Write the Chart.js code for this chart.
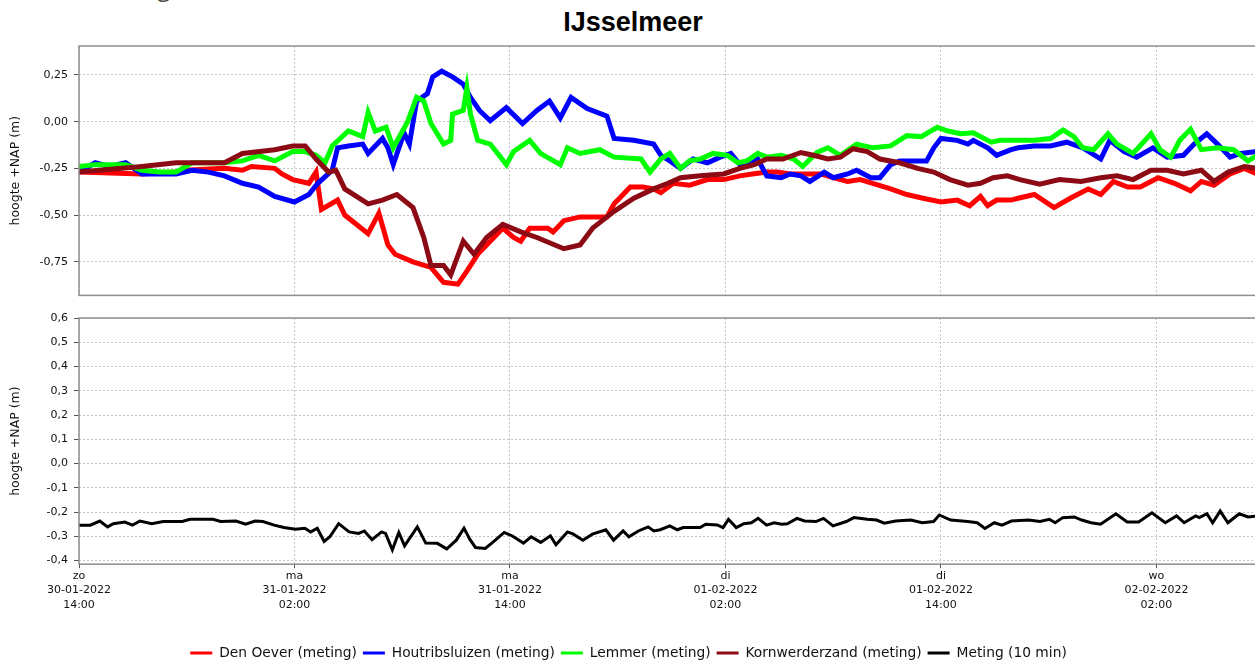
<!DOCTYPE html>
<html>
<head>
<meta charset="utf-8">
<script src="https://cdn.jsdelivr.net/npm/chart.js@4.4.1/dist/chart.umd.min.js"></script>
<style>
  html, body { margin: 0; padding: 0; background: #fff; overflow: hidden; width: 1255px; height: 662px; }
  #cut { position: absolute; left: 40px; top: -30px; font: 24px "Open Sans"; color: #444; white-space: nowrap; }
  #title { position: absolute; left: 0; top: 9px; width: 1266px; text-align: center; font: bold 27px "Liberation Sans"; line-height: 27px; color: #000; }
  #topBox { position: absolute; left: 0; top: 0; width: 1258px; height: 308px; }
  #bottomBox { position: absolute; left: 0; top: 300px; width: 1258px; height: 370px; }
</style>
</head>
<body>
<div id="cut">Water hoogte NAP</div>
<div id="title">IJsselmeer</div>
<div id="topBox"><canvas id="topChart"></canvas></div>
<div id="bottomBox"><canvas id="bottomChart"></canvas></div>
<script>
// x = hours after 30-01-2022 14:00
const tickHours = [0, 12, 24, 36, 48, 60];
const tickLabels = [
    ['zo', '30-01-2022', '14:00'],
    ['ma', '31-01-2022', '02:00'],
    ['ma', '31-01-2022', '14:00'],
    ['di', '01-02-2022', '02:00'],
    ['di', '01-02-2022', '14:00'],
    ['wo', '02-02-2022', '02:00']
];
const topTicks = [-0.75, -0.5, -0.25, 0, 0.25];
const bottomTicks = [-0.4, -0.3, -0.2, -0.1, 0, 0.1, 0.2, 0.3, 0.4, 0.5, 0.6];

const denOever = [
    [0,-0.27],[3.5,-0.28],[5.4,-0.27],[5.9,-0.26],[8.1,-0.25],[9.1,-0.26],[9.6,-0.24],[10.9,-0.25],[11.3,-0.28],
    [11.9,-0.31],[12.8,-0.33],[13.2,-0.27],[13.5,-0.47],[14.4,-0.42],[14.8,-0.5],[16.1,-0.6],[16.7,-0.49],
    [17.2,-0.66],[17.6,-0.71],[18.6,-0.75],[19.6,-0.78],[20.3,-0.86],[21.1,-0.87],[21.6,-0.8],[22.2,-0.71],
    [23.1,-0.62],[23.6,-0.57],[24.2,-0.62],[24.6,-0.64],[25.1,-0.57],[26.1,-0.57],[26.4,-0.59],[27.0,-0.53],
    [27.9,-0.51],[29.4,-0.51],[29.8,-0.44],[30.1,-0.41],[30.7,-0.35],[31.4,-0.35],[32.0,-0.36],[32.4,-0.38],
    [33.1,-0.33],[34.0,-0.34],[35.0,-0.31],[35.9,-0.31],[36.8,-0.29],[37.5,-0.28],[38.3,-0.27],[38.9,-0.27],
    [39.6,-0.28],[40.6,-0.28],[41.3,-0.28],[42.0,-0.3],[42.8,-0.32],[43.5,-0.31],[44.2,-0.33],[45.2,-0.36],
    [46.1,-0.39],[47.0,-0.41],[48.0,-0.43],[48.9,-0.42],[49.6,-0.45],[50.2,-0.4],[50.6,-0.45],[51.1,-0.42],
    [51.9,-0.42],[52.3,-0.41],[53.2,-0.39],[54.3,-0.46],[55.2,-0.41],[56.2,-0.36],[56.9,-0.39],[57.6,-0.32],
    [58.4,-0.35],[59.1,-0.35],[60.1,-0.3],[61.0,-0.33],[61.9,-0.37],[62.5,-0.32],[63.2,-0.34],[64.1,-0.28],
    [64.9,-0.25],[65.6,-0.28]
];
const houtribsluizen = [
    [0,-0.27],[0.9,-0.22],[1.7,-0.24],[2.6,-0.22],[3.5,-0.28],[5.4,-0.28],[6.3,-0.26],[7.2,-0.27],[8.1,-0.29],
    [9.1,-0.33],[10.0,-0.35],[10.9,-0.4],[12.0,-0.43],[12.8,-0.39],[13.3,-0.33],[14.1,-0.26],[14.4,-0.14],
    [15.0,-0.13],[15.8,-0.12],[16.1,-0.17],[16.9,-0.09],[17.2,-0.14],[17.5,-0.23],[18.1,-0.06],[18.4,-0.12],
    [18.8,0.11],[19.4,0.15],[19.7,0.24],[20.2,0.27],[20.8,0.24],[21.4,0.2],[21.8,0.13],[22.3,0.06],[22.9,0.005],
    [23.8,0.075],[24.7,-0.01],[25.5,0.06],[26.2,0.11],[26.8,0.02],[27.4,0.13],[28.3,0.07],[29.4,0.03],
    [29.8,-0.09],[30.9,-0.1],[32.0,-0.12],[32.4,-0.18],[32.9,-0.21],[33.5,-0.25],[34.2,-0.2],[35.0,-0.22],
    [35.7,-0.19],[36.3,-0.17],[36.8,-0.23],[37.8,-0.2],[38.3,-0.29],[39.1,-0.3],[39.6,-0.28],[40.2,-0.29],
    [40.7,-0.32],[41.5,-0.27],[42.0,-0.3],[42.8,-0.28],[43.3,-0.26],[44.1,-0.3],[44.6,-0.3],[45.2,-0.23],
    [45.7,-0.21],[46.5,-0.21],[47.2,-0.21],[47.6,-0.14],[48.0,-0.09],[48.9,-0.1],[49.5,-0.12],[49.8,-0.1],
    [50.6,-0.14],[51.1,-0.18],[51.9,-0.15],[52.3,-0.14],[53.2,-0.13],[54.1,-0.13],[55.0,-0.11],[55.9,-0.14],
    [56.9,-0.2],[57.4,-0.1],[58.2,-0.16],[58.9,-0.19],[59.8,-0.14],[60.6,-0.19],[61.5,-0.18],[62.1,-0.12],
    [62.8,-0.065],[63.4,-0.12],[64.1,-0.19],[64.7,-0.17],[65.6,-0.16]
];
const lemmer = [
    [0,-0.24],[0.9,-0.23],[2.6,-0.23],[3.5,-0.26],[4.5,-0.27],[5.4,-0.27],[6.3,-0.22],[8.1,-0.22],[9.1,-0.21],
    [10.0,-0.18],[10.9,-0.21],[11.9,-0.16],[12.6,-0.16],[13.2,-0.18],[13.7,-0.22],[14.1,-0.13],[15.0,-0.05],
    [15.8,-0.08],[16.1,0.05],[16.5,-0.05],[17.1,-0.03],[17.5,-0.14],[18.3,0.0],[18.8,0.13],[19.2,0.11],
    [19.6,-0.01],[20.3,-0.12],[20.7,-0.1],[20.8,0.04],[21.4,0.06],[21.6,0.18],[21.8,0.04],[22.2,-0.1],
    [22.9,-0.12],[23.8,-0.23],[24.2,-0.16],[25.1,-0.1],[25.7,-0.17],[26.8,-0.23],[27.2,-0.14],[27.9,-0.17],
    [29.0,-0.15],[29.8,-0.19],[31.3,-0.2],[31.8,-0.27],[32.4,-0.2],[32.9,-0.17],[33.5,-0.25],[34.0,-0.21],
    [34.6,-0.2],[35.3,-0.17],[36.1,-0.18],[36.7,-0.22],[37.2,-0.21],[37.8,-0.17],[38.3,-0.19],[39.1,-0.18],
    [39.8,-0.2],[40.3,-0.24],[41.1,-0.165],[41.7,-0.14],[42.4,-0.18],[43.3,-0.12],[44.2,-0.14],[45.2,-0.13],
    [46.1,-0.075],[46.9,-0.08],[47.8,-0.03],[48.4,-0.05],[49.1,-0.065],[49.8,-0.06],[50.8,-0.11],[51.3,-0.1],
    [52.4,-0.1],[53.2,-0.1],[54.1,-0.09],[54.8,-0.045],[55.4,-0.08],[55.9,-0.14],[56.5,-0.15],[57.3,-0.065],
    [57.8,-0.12],[58.7,-0.17],[59.7,-0.065],[60.2,-0.15],[60.8,-0.19],[61.3,-0.1],[61.9,-0.04],[62.5,-0.15],
    [63.4,-0.14],[64.3,-0.15],[65.1,-0.21],[65.6,-0.18]
];
const kornwerderzand = [
    [0,-0.27],[3.5,-0.24],[5.4,-0.22],[8.1,-0.22],[9.1,-0.17],[10.9,-0.15],[11.9,-0.13],[12.6,-0.13],
    [13.2,-0.2],[13.9,-0.27],[14.3,-0.26],[14.8,-0.36],[16.1,-0.44],[16.9,-0.42],[17.7,-0.39],[18.6,-0.46],
    [19.2,-0.62],[19.6,-0.77],[20.3,-0.77],[20.7,-0.82],[21.4,-0.64],[22.0,-0.71],[22.7,-0.62],[23.6,-0.55],
    [24.6,-0.59],[25.5,-0.62],[27.0,-0.68],[27.9,-0.66],[28.6,-0.57],[29.8,-0.48],[30.9,-0.41],[32.0,-0.36],
    [32.8,-0.33],[33.5,-0.3],[34.6,-0.29],[35.9,-0.28],[36.8,-0.25],[37.6,-0.23],[38.3,-0.2],[39.2,-0.2],
    [40.2,-0.165],[40.9,-0.18],[41.7,-0.2],[42.4,-0.19],[43.1,-0.145],[43.9,-0.16],[44.6,-0.2],[45.7,-0.22],
    [46.7,-0.25],[47.6,-0.27],[48.5,-0.31],[49.5,-0.34],[50.2,-0.33],[50.9,-0.3],[51.7,-0.29],[52.4,-0.31],
    [53.5,-0.335],[54.6,-0.31],[55.8,-0.32],[56.9,-0.3],[57.8,-0.29],[58.7,-0.31],[59.7,-0.26],[60.6,-0.26],
    [61.5,-0.28],[62.5,-0.26],[63.2,-0.32],[64.0,-0.27],[64.9,-0.24],[65.6,-0.25]
];
const meting10 = [
    [0,-0.254],[0.63,-0.254],[1.16,-0.237],[1.59,-0.261],[1.91,-0.248],[2.55,-0.241],[2.98,-0.254],[3.4,-0.237],
    [4.05,-0.248],[4.69,-0.239],[5.75,-0.239],[6.18,-0.23],[7.46,-0.23],[7.89,-0.239],[8.74,-0.237],[9.28,-0.25],
    [9.81,-0.237],[10.24,-0.239],[10.87,-0.254],[11.41,-0.264],[12.05,-0.271],[12.58,-0.267],[12.9,-0.282],
    [13.27,-0.267],[13.65,-0.321],[13.97,-0.302],[14.46,-0.248],[15.04,-0.282],[15.57,-0.288],[15.89,-0.278],
    [16.32,-0.314],[16.85,-0.282],[17.07,-0.288],[17.45,-0.356],[17.81,-0.284],[18.13,-0.339],[18.84,-0.261],
    [19.31,-0.328],[19.95,-0.329],[20.48,-0.352],[21.01,-0.316],[21.44,-0.267],[21.76,-0.312],[22.08,-0.346],
    [22.62,-0.35],[23.04,-0.325],[23.68,-0.284],[24.11,-0.298],[24.75,-0.328],[25.18,-0.302],[25.71,-0.325],
    [26.25,-0.298],[26.56,-0.335],[27.2,-0.282],[27.53,-0.291],[28.06,-0.316],[28.59,-0.291],[29.34,-0.273],
    [29.77,-0.316],[30.3,-0.278],[30.62,-0.302],[31.15,-0.278],[31.69,-0.261],[32.01,-0.278],[32.37,-0.273],
    [32.9,-0.257],[33.32,-0.273],[33.64,-0.264],[34.59,-0.264],[34.9,-0.25],[35.54,-0.253],[35.86,-0.264],
    [36.17,-0.23],[36.6,-0.264],[37.02,-0.248],[37.44,-0.244],[37.82,-0.226],[38.29,-0.254],[38.71,-0.244],
    [39.13,-0.25],[39.45,-0.248],[39.98,-0.226],[40.4,-0.237],[41.04,-0.239],[41.46,-0.226],[41.99,-0.257],
    [42.73,-0.239],[43.15,-0.223],[43.89,-0.23],[44.42,-0.233],[44.84,-0.246],[45.48,-0.237],[46.32,-0.233],
    [46.96,-0.244],[47.59,-0.239],[47.91,-0.212],[48.54,-0.233],[49.49,-0.239],[50.02,-0.244],[50.45,-0.268],
    [50.97,-0.244],[51.4,-0.254],[51.92,-0.237],[52.87,-0.233],[53.51,-0.239],[54.04,-0.23],[54.36,-0.244],
    [54.78,-0.223],[55.42,-0.22],[55.84,-0.233],[56.36,-0.244],[56.89,-0.25],[57.74,-0.207],[58.37,-0.241],
    [59.01,-0.241],[59.75,-0.203],[60.49,-0.244],[61.12,-0.216],[61.54,-0.244],[62.18,-0.216],[62.39,-0.223],
    [62.81,-0.207],[63.13,-0.244],[63.55,-0.196],[63.98,-0.244],[64.61,-0.207],[65.1,-0.22],[65.6,-0.216]
];

const FONT = 'DejaVu Sans';
const xMax = 65.6;

const toXY = (arr) => arr.map(p => ({ x: p[0], y: p[1] }));

// full rectangle round the plot area
const framePlugin = {
    id: 'frame',
    afterDraw(chart) {
        const a = chart.chartArea;
        const ctx = chart.ctx;
        ctx.save();
        ctx.strokeStyle = '#8e8e8e';
        ctx.lineWidth = 1.5;
        ctx.strokeRect(a.left, a.top, a.right - a.left, a.bottom - a.top);
        ctx.restore();
    }
};

function gridOpts() {
    return { color: '#c6c6c6', lineWidth: 1, tickLength: 5, tickColor: '#555', tickWidth: 1 };
}

function xAxis(showLabels) {
    return {
        type: 'linear',
        min: 0,
        max: xMax,
        afterBuildTicks: s => { s.ticks = tickHours.map(v => ({ value: v })); },
        afterFit: s => { s.height = showLabels ? 76 : 0; },
        ticks: {
            display: showLabels,
            maxRotation: 0,
            padding: 0,
            color: '#111',
            font: { family: FONT, size: 11, lineHeight: 1.36 },
            callback: v => tickLabels[tickHours.indexOf(v)]
        },
        grid: Object.assign(gridOpts(), { drawTicks: showLabels, tickLength: 4 }),
        border: { display: false, dash: [2, 2] }
    };
}

function yAxis(min, max, ticks, digits) {
    return {
        min: min,
        max: max,
        afterBuildTicks: s => { s.ticks = ticks.map(v => ({ value: v })); },
        afterFit: s => { s.width = 79; },
        ticks: {
            padding: 6,
            color: '#111',
            font: { family: FONT, size: 11 },
            callback: v => v.toFixed(digits).replace('.', ',')
        },
        grid: gridOpts(),
        border: { display: false, dash: [2, 2] },
        title: {
            display: true,
            text: 'hoogte +NAP (m)',
            color: '#111',
            font: { family: FONT, size: 12.5 },
            padding: { top: 8, bottom: 0 }
        }
    };
}

const lineStyle = (color, width) => ({
    borderColor: color,
    backgroundColor: color,
    borderWidth: width,
    pointRadius: 0,
    tension: 0,
    fill: false
});

new Chart(document.getElementById('topChart'), {
    type: 'line',
    data: {
        datasets: [
            Object.assign({ label: 'Den Oever (meting)', data: toXY(denOever), order: 4 }, lineStyle('#ff0000', 5)),
            Object.assign({ label: 'Houtribsluizen (meting)', data: toXY(houtribsluizen), order: 3 }, lineStyle('#0000ff', 5)),
            Object.assign({ label: 'Lemmer (meting)', data: toXY(lemmer), order: 2 }, lineStyle('#00ff00', 5)),
            Object.assign({ label: 'Kornwerderzand (meting)', data: toXY(kornwerderzand), order: 1 }, lineStyle('#8c0a14', 5))
        ]
    },
    options: {
        responsive: true,
        maintainAspectRatio: false,
        animation: false,
        layout: { padding: { top: 46, bottom: 5, left: 0, right: 1 } },
        plugins: { legend: { display: false }, tooltip: { enabled: false } },
        scales: {
            x: xAxis(false),
            y: yAxis(-0.93, 0.405, topTicks, 2)
        }
    },
    plugins: [framePlugin]
});

new Chart(document.getElementById('bottomChart'), {
    type: 'line',
    data: {
        datasets: [
            // legend entries for the stations of the upper panel
            Object.assign({ label: 'Den Oever (meting)', data: [] }, lineStyle('#ff0000', 3)),
            Object.assign({ label: 'Houtribsluizen (meting)', data: [] }, lineStyle('#0000ff', 3)),
            Object.assign({ label: 'Lemmer (meting)', data: [] }, lineStyle('#00ff00', 3)),
            Object.assign({ label: 'Kornwerderzand (meting)', data: [] }, lineStyle('#8c0a14', 3)),
            Object.assign({ label: 'Meting (10 min)', data: toXY(meting10) }, lineStyle('#000000', 3))
        ]
    },
    options: {
        responsive: true,
        maintainAspectRatio: false,
        animation: false,
        layout: { padding: { top: 18, bottom: 0, left: 0, right: 1 } },
        plugins: {
            tooltip: { enabled: false },
            legend: {
                position: 'bottom',
                labels: {
                    usePointStyle: true,
                    pointStyle: 'line',
                    pointStyleWidth: 22,
                    padding: 6,
                    color: '#111',
                    font: { family: FONT, size: 13.8 }
                }
            }
        },
        scales: {
            x: xAxis(true),
            y: yAxis(-0.415, 0.6, bottomTicks, 1)
        }
    },
    plugins: [framePlugin]
});
</script>
</body>
</html>
